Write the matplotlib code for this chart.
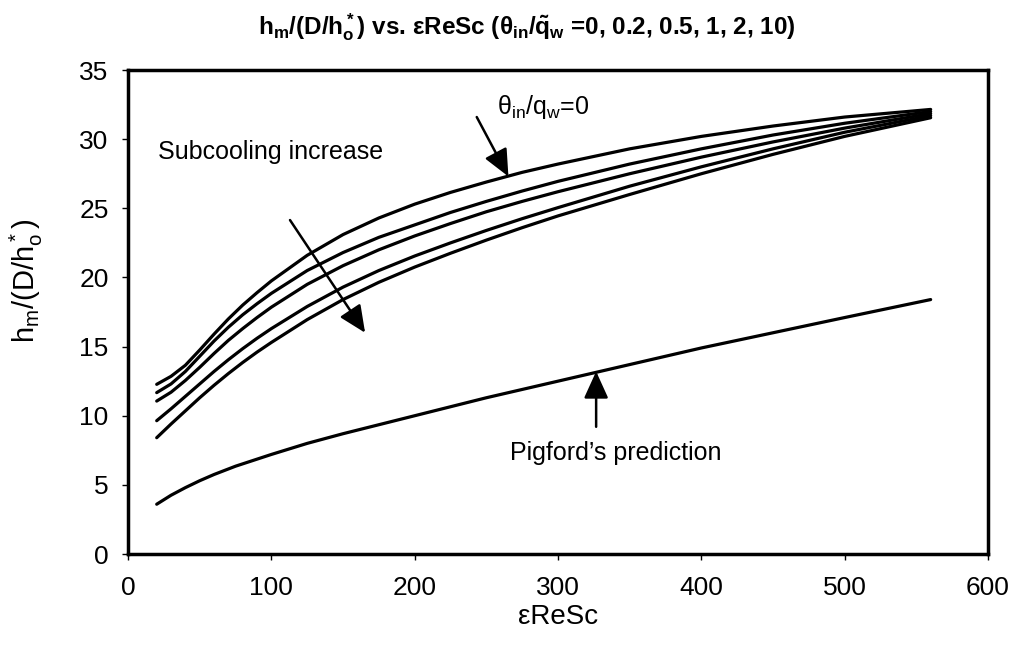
import matplotlib
matplotlib.use("Agg")
import matplotlib.pyplot as plt

plt.rcParams['font.family'] = ['Liberation Sans', 'DejaVu Sans']
plt.rcParams['mathtext.default'] = 'regular'

# ---- data ----
x_c = [20, 30, 40, 50, 60, 70, 80, 90, 100, 125, 150, 175, 200, 225, 250, 275, 300, 350, 400, 450, 500, 560]
h_theta0 = [12.27, 12.85, 13.65, 14.75, 15.9, 17.0, 18.0, 18.9, 19.75, 21.6, 23.1, 24.3, 25.3, 26.15, 26.9, 27.6, 28.2, 29.3, 30.2, 30.95, 31.6, 32.15]
h_curve2 = [11.67, 12.3, 13.2, 14.3, 15.4, 16.4, 17.3, 18.1, 18.85, 20.5, 21.8, 22.9, 23.8, 24.7, 25.5, 26.25, 26.95, 28.2, 29.3, 30.3, 31.15, 32.0]
h_curve3 = [11.06, 11.7, 12.55, 13.5, 14.5, 15.45, 16.3, 17.1, 17.85, 19.5, 20.85, 22.0, 23.0, 23.9, 24.75, 25.5, 26.2, 27.5, 28.7, 29.8, 30.8, 31.85]
h_curve4 = [9.64, 10.5, 11.4, 12.3, 13.2, 14.05, 14.85, 15.6, 16.3, 17.9, 19.3, 20.5, 21.55, 22.5, 23.4, 24.25, 25.05, 26.6, 28.0, 29.3, 30.5, 31.7]
h_curve5 = [8.41, 9.4, 10.35, 11.3, 12.2, 13.05, 13.85, 14.6, 15.3, 16.95, 18.4, 19.65, 20.75, 21.75, 22.7, 23.6, 24.45, 26.0, 27.5, 28.9, 30.2, 31.55]

x_pig = [20, 30, 40, 50, 60, 75, 100, 125, 150, 200, 250, 300, 350, 400, 450, 500, 560]
h_pig = [3.6, 4.25, 4.8, 5.3, 5.75, 6.35, 7.2, 8.0, 8.7, 10.0, 11.3, 12.5, 13.7, 14.9, 16.0, 17.1, 18.4]

x_ticks = [0, 100, 200, 300, 400, 500, 600]
y_ticks = [0, 5, 10, 15, 20, 25, 30, 35]

fig = plt.figure(figsize=(10.13, 6.46), dpi=100)
ax = fig.add_axes([0.1264, 0.1424, 0.8489, 0.7492])

lw = 2.3
for h in (h_theta0, h_curve2, h_curve3, h_curve4, h_curve5):
    ax.plot(x_c, h, color='black', lw=lw, solid_capstyle='round', solid_joinstyle='round')
ax.plot(x_pig, h_pig, color='black', lw=lw, solid_capstyle='round', solid_joinstyle='round')

ax.set_xlim(0, 600)
ax.set_ylim(0, 35)
ax.set_xticks(x_ticks)
ax.set_yticks(y_ticks)
ax.tick_params(direction='out', length=4, width=1, labelsize=19)
ax.tick_params(axis='y', pad=10)
ax.tick_params(axis='x', pad=12)
for s in ax.spines.values():
    s.set_linewidth(2.5)

ax.set_xlabel('εReSc', fontsize=20, labelpad=3)
ax.set_ylabel(r'h$_m$/(D/h$^*_o$)', fontsize=21, va='center', ha='center')
ax.yaxis.set_label_coords(-0.118, 0.565)
fig.suptitle(r'h$_m$/(D/h$^*_o$) vs. εReSc (θ$_{in}$/$\tilde{q}_w$ =0, 0.2, 0.5, 1, 2, 10)',
             fontsize=17.5, fontweight='bold', x=0.52, y=0.982)

arrow = dict(arrowstyle='-|>,head_length=0.55,head_width=0.25', mutation_scale=30,
             lw=1.8, color='black', shrinkA=0, shrinkB=0)

ax.text(257.5, 32.3, r'θ$_{in}$/q$_w$=0', fontsize=18, ha='left', va='center')
ax.annotate('', xy=(265.4, 27.3), xytext=(243.3, 31.6), arrowprops=arrow)

ax.text(21, 29.1, 'Subcooling increase', fontsize=18, ha='left', va='center')
ax.annotate('', xy=(165.4, 16.0), xytext=(113, 24.15), arrowprops=arrow)

ax.text(340, 7.3, 'Pigford\u2019s prediction', fontsize=18, ha='center', va='center')
ax.annotate('', xy=(326.6, 13.2), xytext=(326.6, 9.2), arrowprops=arrow)

fig.savefig('out.png', dpi=100)
